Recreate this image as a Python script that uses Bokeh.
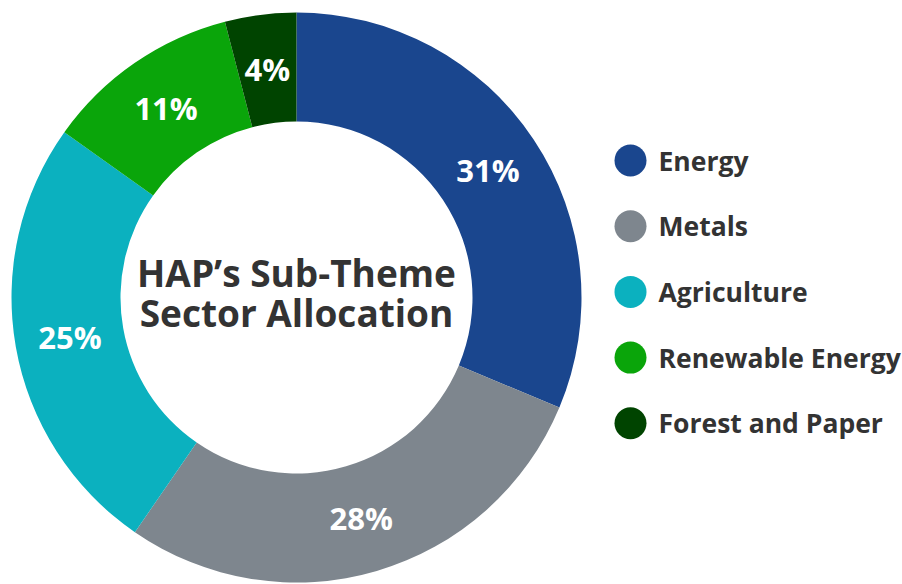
import numpy as np
from bokeh.plotting import figure
from bokeh.models import Range1d, ColumnDataSource
from bokeh.core.properties import value
from bokeh.embed import file_html
from bokeh.resources import INLINE

sectors = ["Energy", "Metals", "Agriculture", "Renewable Energy", "Forest and Paper"]
shares = [31, 28, 25, 11, 4]
colors = ["#1a468e", "#7e868e", "#0bb1bf", "#0aa50a", "#004400"]
center_title = ["HAP\u2019s Sub-Theme", "Sector Allocation"]

W, H = 902, 584
p = figure(width=W, height=H, output_backend="svg", toolbar_location=None,
           x_range=Range1d(0, W), y_range=Range1d(-H, 0),
           min_border=0)
p.axis.visible = False
p.grid.visible = False
p.outline_line_color = None
p.background_fill_color = "white"

cx, cy = 296, -297
r_out, r_in = 285, 176

vals = np.array(shares, dtype=float)
frac = vals / vals.sum()
cum = np.concatenate([[0], np.cumsum(frac)])
start = np.pi / 2 - cum[1:] * 2 * np.pi
end = np.pi / 2 - cum[:-1] * 2 * np.pi
mid = (start + end) / 2

src = ColumnDataSource(dict(start=start, end=end, color=colors))
p.annular_wedge(x=cx, y=cy, inner_radius=r_in, outer_radius=r_out,
                start_angle="start", end_angle="end", fill_color="color",
                line_color=None, source=src)

r_lab = 230
lab = ColumnDataSource(dict(x=cx + r_lab * np.cos(mid), y=cy + r_lab * np.sin(mid),
                            t=[f"{s}%" for s in shares]))
p.text(x="x", y="y", text="t", source=lab, text_color="white",
       text_font=value("Open Sans"), text_font_style="bold", text_font_size="31px",
       text_align="center", text_baseline="middle")

p.text(x=[cx, cx], y=[-271.5, -312], text=center_title, text_color="#333333",
       text_font=value("Open Sans"), text_font_style="bold", text_font_size="37px",
       text_align="center", text_baseline="middle")

# legend
ly = -(160 + 65.7 * np.arange(len(sectors)))
p.circle(x=[630] * len(sectors), y=ly, radius=16, fill_color=colors, line_color=None)
p.text(x=[658] * len(sectors), y=ly, text=sectors, text_color="#333333",
       text_font=value("Open Sans"), text_font_style="bold", text_font_size="26.5px",
       text_align="left", text_baseline="middle")

open("out.html", "w").write(file_html(p, INLINE))
